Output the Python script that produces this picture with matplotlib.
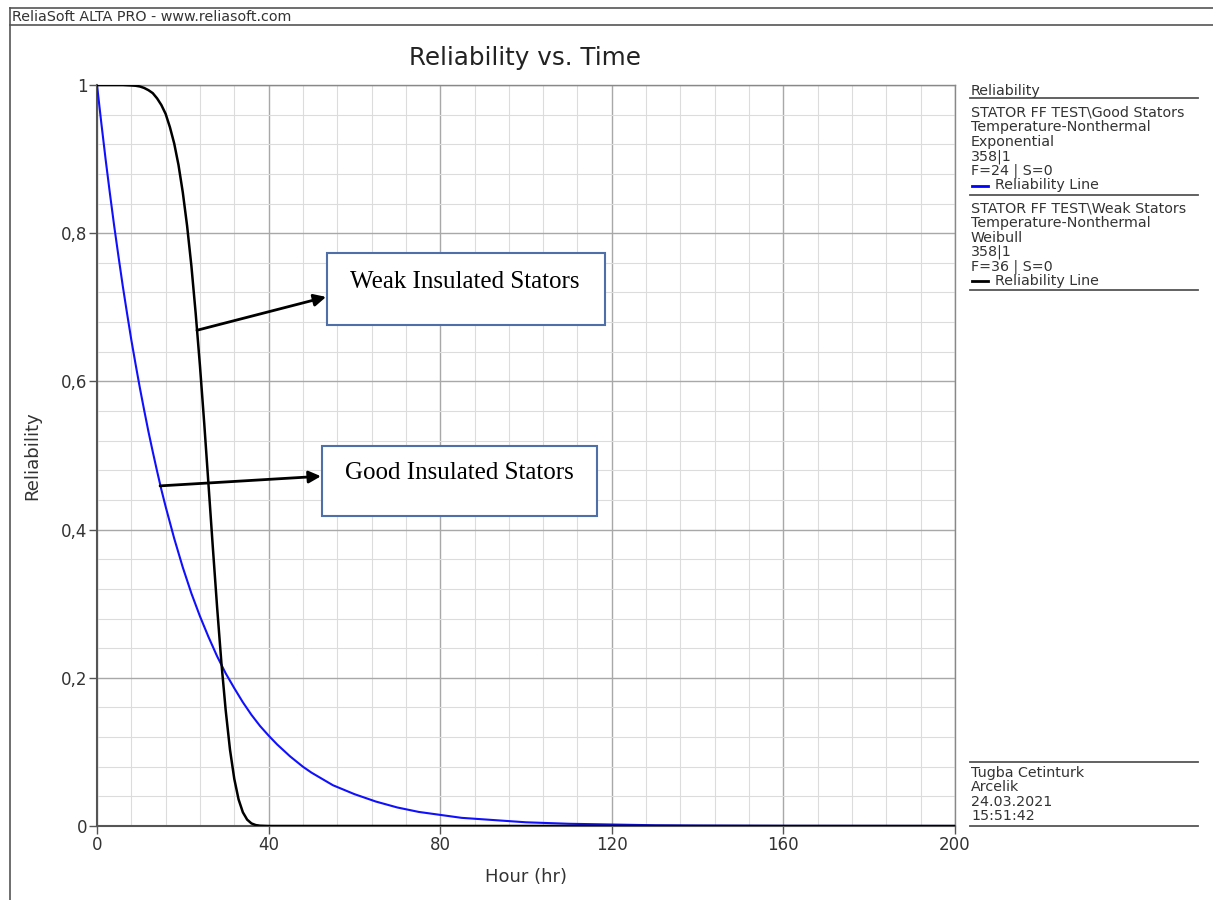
import numpy as np
import matplotlib
matplotlib.use('Agg')
import matplotlib.pyplot as plt
from matplotlib.ticker import MultipleLocator, FuncFormatter
from matplotlib.patches import Rectangle
from matplotlib.lines import Line2D

# Good stators (exponential)
good_hours = [0, 1, 2, 3, 4, 5, 6, 7, 8, 9, 10, 11, 12, 13, 14, 15, 16, 18, 20, 22, 24,
              26, 28, 30, 32, 34, 36, 38, 40, 42, 45, 48, 50, 55, 60, 65, 70, 75, 80,
              85, 90, 95, 100, 110, 120, 130, 140, 160, 200]
good_rel = [1.0, 0.949, 0.900, 0.854, 0.810, 0.769, 0.729, 0.692, 0.656, 0.623, 0.591,
            0.561, 0.532, 0.505, 0.479, 0.454, 0.431, 0.388, 0.349, 0.314, 0.283, 0.255,
            0.229, 0.206, 0.186, 0.167, 0.150, 0.135, 0.122, 0.110, 0.094, 0.080, 0.072,
            0.055, 0.043, 0.033, 0.025, 0.019, 0.015, 0.011, 0.009, 0.007, 0.005, 0.003,
            0.002, 0.001, 0.0006, 0.0002, 0.0]

# Weak stators (weibull)
weak_hours = [0, 4, 6, 8, 9, 10, 11, 12, 13, 14, 15, 16, 17, 18, 19, 20, 21, 22, 23, 24,
              25, 26, 27, 28, 29, 30, 31, 32, 33, 34, 35, 36, 37, 38, 40, 200]
weak_rel = [1.0, 1.0, 1.0, 0.9994, 0.999, 0.998, 0.996, 0.993, 0.989, 0.982, 0.973,
            0.961, 0.943, 0.921, 0.892, 0.855, 0.810, 0.756, 0.692, 0.621, 0.543, 0.460,
            0.376, 0.295, 0.220, 0.156, 0.103, 0.0636, 0.0359, 0.0185, 0.0086, 0.0035,
            0.00125, 0.0004, 0.0, 0.0]

x_ticks = [0, 40, 80, 120, 160, 200]
y_ticks = [0, 0.2, 0.4, 0.6, 0.8, 1.0]

legend_lines = [
    ('Reliability', None),
    ('STATOR FF TEST\\Good Stators', None),
    ('Temperature-Nonthermal', None),
    ('Exponential', None),
    ('358|1', None),
    ('F=24 | S=0', None),
    ('Reliability Line', 'blue'),
    ('STATOR FF TEST\\Weak Stators', None),
    ('Temperature-Nonthermal', None),
    ('Weibull', None),
    ('358|1', None),
    ('F=36 | S=0', None),
    ('Reliability Line', 'black'),
]
footer_lines = ['Tugba Cetinturk', 'Arcelik', '24.03.2021', '15:51:42']

W, H = 1213, 900
fig = plt.figure(figsize=(W / 100, H / 100), dpi=100)

def fx(px):
    return px / W

def fy(py):
    return 1 - py / H

# frame of the report page
txtc = '#333333'
fig.add_artist(Line2D([fx(10), fx(10)], [fy(8), 0], color='#555555', lw=1.2))
fig.add_artist(Line2D([fx(10), 1], [fy(8), fy(8)], color='#555555', lw=1.2))
fig.add_artist(Line2D([fx(10), 1], [fy(25), fy(25)], color='#555555', lw=1.2))
fig.text(fx(12), fy(17), 'ReliaSoft ALTA PRO - www.reliasoft.com', fontsize=10.3,
         color=txtc, va='center', ha='left')

ax = fig.add_axes([fx(97), fy(826), fx(955) - fx(97), fy(85) - fy(826)])
ax.plot(good_hours, good_rel, color='#1010ff', lw=1.5, zorder=3)
ax.plot(weak_hours, weak_rel, color='black', lw=1.8, zorder=3)

ax.set_xlim(0, 200)
ax.set_ylim(0, 1)
ax.xaxis.set_minor_locator(MultipleLocator(8))
ax.yaxis.set_minor_locator(MultipleLocator(0.04))
ax.set_xticks(x_ticks)
ax.set_yticks(y_ticks)
ax.yaxis.set_major_formatter(FuncFormatter(lambda v, p: ('%g' % round(v, 2)).replace('.', ',')))
ax.grid(which='major', color='#a8a8a8', lw=1.0)
ax.grid(which='minor', color='#dcdcdc', lw=0.8)
ax.set_axisbelow(True)
ax.tick_params(which='major', direction='out', length=6, width=1, color='#555555',
               labelsize=12, labelcolor=txtc, pad=1)
ax.tick_params(which='minor', length=0)
for side in ['left', 'bottom']:
    ax.spines[side].set_color('#555555')
    ax.spines[side].set_linewidth(1.5)
for side in ['top', 'right']:
    ax.spines[side].set_color('#888888')
    ax.spines[side].set_linewidth(1.0)

ax.set_xlabel('Hour (hr)', fontsize=13, color=txtc, labelpad=10)
ax.set_ylabel('Reliability', fontsize=13, color=txtc, labelpad=14)
fig.text(fx(525), fy(58), 'Reliability vs. Time', fontsize=17.7, color='#222222',
         ha='center', va='center')

# annotation boxes
box_col = '#4f6fa8'
ax.add_patch(Rectangle((53.6, 0.676), 64.8, 0.097, fill=True, facecolor='white',
                       edgecolor=box_col, lw=1.5, zorder=4))
ax.text(85.8, 0.734, 'Weak Insulated Stators', family='Liberation Serif', fontsize=18,
        ha='center', va='center', zorder=5)
ax.add_patch(Rectangle((52.4, 0.418), 64.2, 0.095, fill=True, facecolor='white',
                       edgecolor=box_col, lw=1.5, zorder=4))
ax.text(84.4, 0.477, 'Good Insulated Stators', family='Liberation Serif', fontsize=18,
        ha='center', va='center', zorder=5)
arrow = dict(arrowstyle='-|>', color='black', lw=2, mutation_scale=18, shrinkA=0, shrinkB=0)
ax.annotate('', xy=(53.4, 0.714), xytext=(23.3, 0.669), arrowprops=arrow, zorder=5)
ax.annotate('', xy=(52.2, 0.472), xytext=(14.7, 0.459), arrowprops=arrow, zorder=5)

# legend block on the right
lx0, lx1 = 970, 1198
rule_col = '#555555'
fs_leg = 10.3
y = 91
for i, (txt, col) in enumerate(legend_lines):
    if col is None:
        fig.text(fx(lx0 + 1), fy(y), txt, fontsize=fs_leg, color=txtc, va='center', ha='left')
    else:
        fig.add_artist(Line2D([fx(lx0 + 2), fx(lx0 + 18)], [fy(y), fy(y)], color=col, lw=2))
        fig.text(fx(lx0 + 25), fy(y), txt, fontsize=fs_leg, color=txtc, va='center', ha='left')
    if i == 0:
        fig.add_artist(Line2D([fx(lx0), fx(lx1)], [fy(98), fy(98)], color=rule_col, lw=1.3))
        y = 113
    elif col is not None:
        fig.add_artist(Line2D([fx(lx0), fx(lx1)], [fy(y + 9), fy(y + 9)], color=rule_col, lw=1.3))
        y += 23
    else:
        y += 14.5

fig.add_artist(Line2D([fx(lx0), fx(lx1)], [fy(762), fy(762)], color=rule_col, lw=1.3))
for i, txt in enumerate(footer_lines):
    fig.text(fx(lx0 + 1), fy(773 + i * 14.3), txt, fontsize=fs_leg, color=txtc,
             va='center', ha='left')
fig.add_artist(Line2D([fx(lx0), fx(lx1)], [fy(826), fy(826)], color=rule_col, lw=1.3))

fig.savefig('out.png', dpi=100)
